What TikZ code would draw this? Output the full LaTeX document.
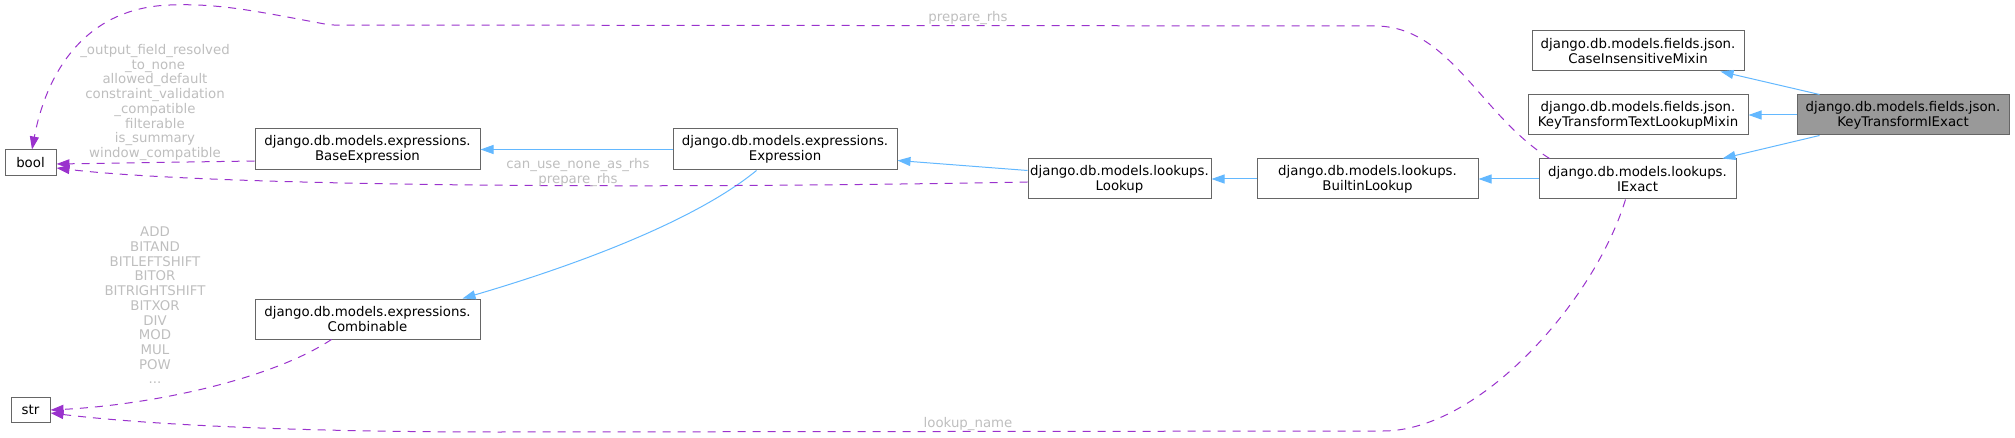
\documentclass[tikz,border=0pt]{standalone}
\usepackage{fontspec}
\setmainfont{DejaVu Sans}
\usetikzlibrary{arrows.meta,calc}
\definecolor{edgeblue}{HTML}{63B8FF}
\definecolor{edgepurple}{HTML}{9A32CD}
\definecolor{nodeborder}{HTML}{666666}
\definecolor{nodehl}{HTML}{999999}
\definecolor{lblgrey}{HTML}{BEBEBE}
\begin{document}
\begin{tikzpicture}[x=1pt,y=-1pt,
  cls/.style={draw=nodeborder, line width=1pt, fill=white, inner sep=0pt, align=center,
    font=\fontsize{13.33}{14.7}\selectfont, text=black},
  inh/.style={draw=edgeblue, line width=1pt, -{Triangle[length=13pt,width=9pt]}},
  use/.style={draw=edgepurple, line width=1pt, dash pattern=on 8pt off 7pt,
    -{Triangle[length=13pt,width=9pt]}},
  lbl/.style={text=lblgrey, align=center, inner sep=0pt, font=\fontsize{13.33}{14.7}\selectfont}]
\useasboundingbox (0,0) rectangle (2015,438);

% nodes
\node[cls, minimum width=51pt, minimum height=26pt] (bool) at (30.5,163) {bool};
\node[cls, minimum width=39pt, minimum height=25pt] (str) at (30.5,409.5) {str};
\node[cls, minimum width=225pt, minimum height=41pt] (base) at (367.5,149.5) {django.db.models.expressions.\\BaseExpression};
\node[cls, minimum width=225pt, minimum height=40pt] (comb) at (367.5,319) {django.db.models.expressions.\\Combinable};
\node[cls, minimum width=224pt, minimum height=41pt] (expr) at (785,149.5) {django.db.models.expressions.\\Expression};
\node[cls, minimum width=183pt, minimum height=40pt] (lookup) at (1119.5,179) {django.db.models.lookups.\\Lookup};
\node[cls, minimum width=221pt, minimum height=40pt] (builtin) at (1367.5,179) {django.db.models.lookups.\\BuiltinLookup};
\node[cls, minimum width=197pt, minimum height=40pt] (iexact) at (1637.5,179) {django.db.models.lookups.\\IExact};
\node[cls, minimum width=212pt, minimum height=40pt] (cim) at (1638,51) {django.db.models.fields.json.\\CaseInsensitiveMixin};
\node[cls, minimum width=220pt, minimum height=40pt] (ktt) at (1638,115) {django.db.models.fields.json.\\KeyTransformTextLookupMixin};
\node[cls, fill=nodehl, minimum width=212pt, minimum height=40pt] (ktie) at (1903,115) {django.db.models.fields.json.\\KeyTransformIExact};

% inheritance edges
\draw[inh] ($(ktie.north west)+(23,0)$) -- ($(cim.south east)+(-24,0)$);
\draw[inh] (ktie.west) -- (ktt.east);
\draw[inh] ($(ktie.south west)+(23,0)$) -- ($(iexact.north east)+(-14,0)$);
\draw[inh] (iexact.west) -- (builtin.east);
\draw[inh] (builtin.west) -- (lookup.east);
\draw[inh] ($(lookup.north west)+(0,12)$) -- ($(expr.south east)+(0,-10)$);
\draw[inh] (expr.west) -- (base.east);
\draw[inh] ($(expr.south west)+(84,0)$) .. controls (690,225) and (560,270) .. ($(comb.north east)+(-18,0)$);

% usage edges
\draw[use] ($(base.west)+(0,11.5)$) -- ($(bool.east)+(0,1)$);
\draw[use] ($(lookup.west)+(0,3)$) .. controls (600,190) and (200,185) .. ($(bool.east)+(0,5)$);
\draw[use] ($(iexact.north west)+(11,0)$) .. controls (1480,115) and (1450,26) .. (1375,26)
   -- (330,25) .. controls (260,12) and (220,3) .. (170,5)
   .. controls (80,8) and (45,80) .. ($(bool.north)+(1.5,0)$);
\draw[use] ($(comb.south west)+(77,0)$) .. controls (270,380) and (150,405) .. ($(str.east)+(0,0.5)$);
\draw[use] ($(iexact.south west)+(87,0)$) .. controls (1595,300) and (1480,431) .. (1383,431)
   -- (500,432) .. controls (300,432) and (150,425) .. ($(str.east)+(0,3.5)$);

% labels
\node[lbl] (l1) at (155,102.5) {\_output\_field\_resolved\\\_to\_none\\allowed\_default\\constraint\_validation\\\_compatible\\filterable\\is\_summary\\window\_compatible};
\node[lbl] (l2) at (578,172.5) {can\_use\_none\_as\_rhs\\prepare\_rhs};
\node[lbl] (l3) at (968,18) {prepare\_rhs};
\node[lbl] (l4) at (155,305.5) {ADD\\BITAND\\BITLEFTSHIFT\\BITOR\\BITRIGHTSHIFT\\BITXOR\\DIV\\MOD\\MUL\\POW\\...};
\node[lbl] (l5) at (968,424) {lookup\_name};
\end{tikzpicture}
\end{document}
